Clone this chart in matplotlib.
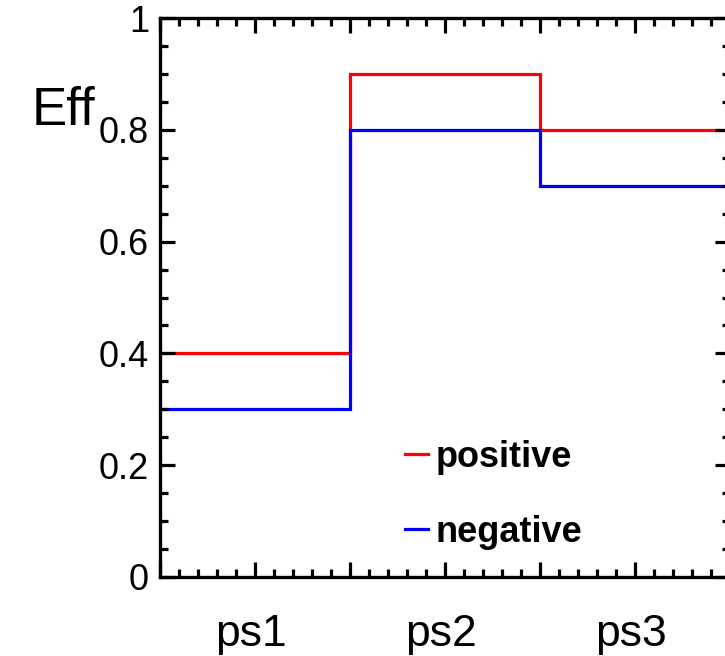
import numpy as np
import matplotlib as mpl
mpl.use('Agg')
import matplotlib.pyplot as plt
import matplotlib.ticker as ticker

######################
## data
######################

bins = ['ps1', 'ps2', 'ps3']
edges = [0, 1, 2, 3]
eff_positive = [0.4, 0.9, 0.8]
eff_negative = [0.3, 0.8, 0.7]
y_ticks = [0, 0.2, 0.4, 0.6, 0.8, 1]

######################
## setup plot
######################

plt.rcParams['font.family'] = ['Liberation Sans', 'DejaVu Sans']

W, H = 725, 656
fig = plt.figure(figsize=(W / 100, H / 100), dpi=100)
## axes runs a bit past the right edge, like the original crop
ax = fig.add_axes([160 / W, 79 / H, 570 / W, 559 / H])

ax.stairs(eff_positive, edges, baseline=None, color='#ff0000', lw=2.3, label='positive')
ax.stairs(eff_negative, edges, baseline=None, color='#0000ff', lw=2.3, label='negative')

ax.set_xlim(edges[0], edges[-1])
ax.set_ylim(0, 1)

for s in ax.spines.values():
    s.set_linewidth(2.4)

## y axis
ax.set_yticks(y_ticks)
ax.yaxis.set_major_formatter(ticker.FormatStrFormatter('%g'))
ax.yaxis.set_minor_locator(ticker.MultipleLocator(0.05))

## x axis: long ticks every half bin, labels in bin centres
ax.xaxis.set_major_locator(ticker.MultipleLocator(0.5))
ax.xaxis.set_minor_locator(ticker.MultipleLocator(0.1))
ax.xaxis.set_major_formatter(ticker.NullFormatter())
centres = np.array(edges[:-1]) + 0.5
for c, name in zip(centres, bins):
    ax.text(c - 0.02, -0.066, name, transform=ax.get_xaxis_transform(),
            ha='center', va='top', fontsize=32)

ax.tick_params(which='both', direction='in', top=True, right=True, width=2.3)
ax.tick_params(which='major', length=11)
ax.tick_params(which='minor', length=5.8)
ax.tick_params(axis='y', labelsize=26, pad=8)

fig.text(32 / W, 1 - 125 / H, 'Eff', fontsize=38, ha='left', va='baseline')

ax.legend(loc='upper left', bbox_to_anchor=(405 / W, 1 - 440 / H),
          bbox_transform=fig.transFigure, frameon=False,
          prop={'weight': 'bold', 'size': 26}, handlelength=0.65,
          handletextpad=0.2, labelspacing=1.1, borderpad=0, borderaxespad=0)

plt.savefig('out.png', dpi=100)
